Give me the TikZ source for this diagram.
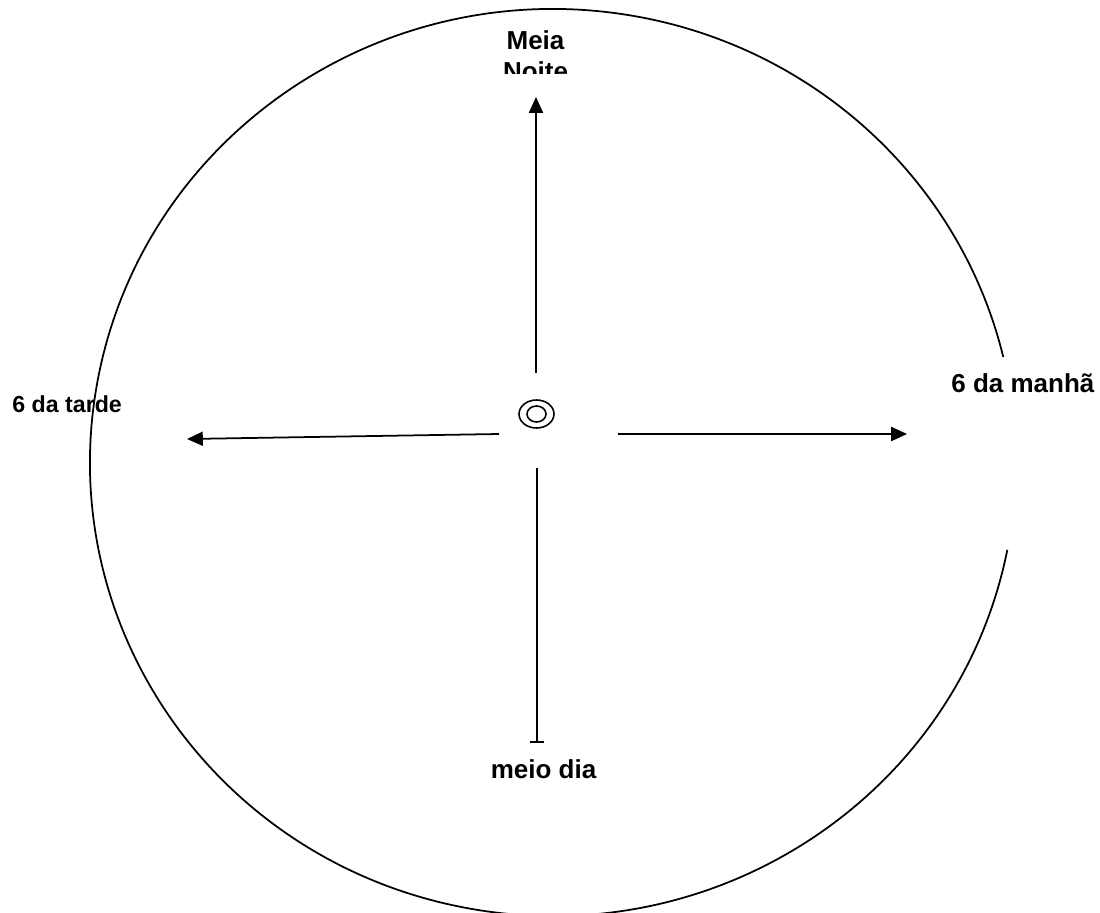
\documentclass[tikz,border=0pt]{standalone}
\usepackage{fontspec}
\setmainfont{Liberation Sans}
\usetikzlibrary{arrows.meta,positioning}
\tikzset{rotulo/.style={font=\bfseries\fontsize{14.8}{17.8}\selectfont,inner sep=0pt},
  seta/.style={-{Triangle[length=9pt,width=8pt]},line width=1pt},
  haste/.style={-{Bar[width=8.5pt]},line width=1pt},
  traco/.style={line width=1pt}}

\begin{document}
\begin{tikzpicture}[x=.02cm,y=-.02cm]
\useasboundingbox (0,0) rectangle (1100,913);
% mostrador
\coordinate (o) at (553,462.5);
\draw[traco] (o) ++(11.1:463 and 453.5)
 arc[start angle=11.1,end angle=346.55,x radius=463,y radius=453.5];
\coordinate (alvo) at (536.5,414);
\draw[line width=.9pt] (alvo) ellipse [x radius=17.5,y radius=14]
 (alvo) ellipse [x radius=9.5,y radius=8];
% pontas das setas
\coordinate (cN) at (536,373); \coordinate (pN) at (536,97);
\coordinate (cO) at (499,434); \coordinate (pO) at (187,439);
\coordinate (cL) at (618,434); \coordinate (pL) at (907,434);
\coordinate (cS) at (537,468); \coordinate (pS) at (537,743);
\draw[seta] (cN)--(pN);
\draw[seta] (cO)--(pO);
\draw[seta] (cL)--(pL);
\draw[haste] (cS)--(pS);
% horas
\begin{scope}
 \clip (450,0) rectangle (650,73);
 \node[rotulo,anchor=base] (meia) at (535.5,49) {Meia};
 \node[rotulo,anchor=base] (noite) at (535.5,80) {Noite};
\end{scope}
\node[rotulo,font=\bfseries\fontsize{13.2}{15.8}\selectfont,anchor=base west] (tarde) at (12,412) {6 da tarde};
\node[rotulo,anchor=base west] (manha) at (951,392) {6 da manhã};
\node[rotulo,anchor=base] (meiodia) at (543.5,778) {meio dia};
\end{tikzpicture}
\end{document}
